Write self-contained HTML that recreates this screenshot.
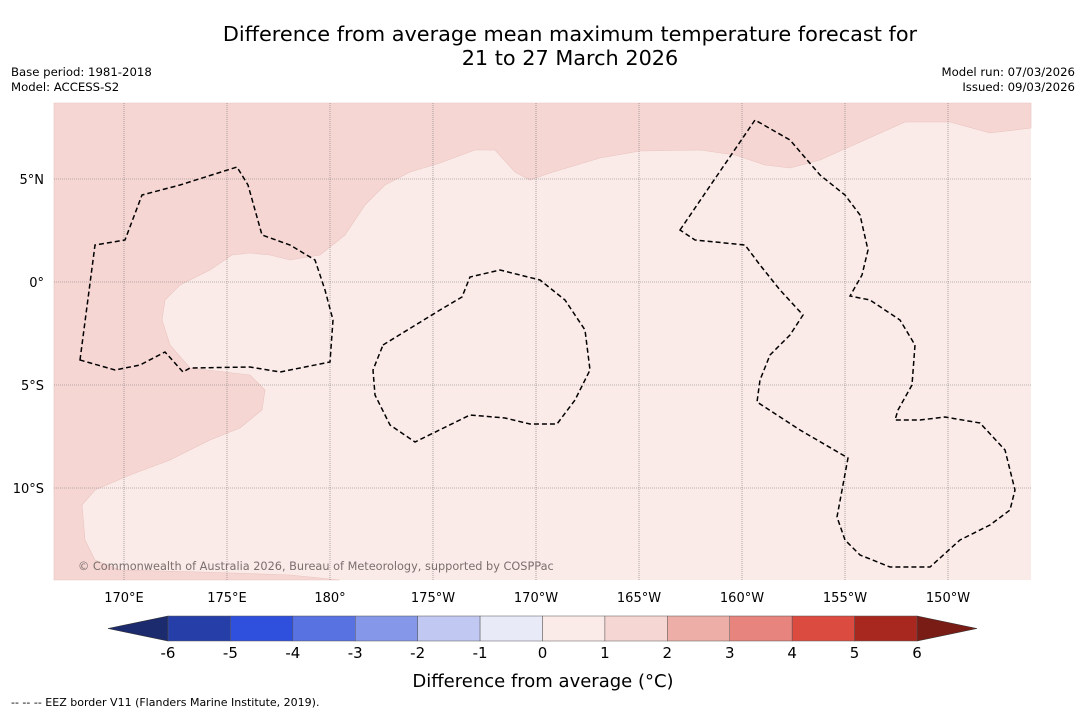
<!DOCTYPE html>
<html><head><meta charset="utf-8"><style>
body{margin:0;background:#fff;width:1085px;height:713px;overflow:hidden;font-family:"DejaVu Sans","Liberation Sans",sans-serif}
.t{position:absolute;color:#000}
</style></head><body>
<div class="t" style="left:0;width:1140px;top:22px;text-align:center;font-size:20.8px;line-height:24px">Difference from average mean maximum temperature forecast for<br>21 to 27 March 2026</div>
<div class="t" style="left:11px;top:65px;font-size:11.7px;line-height:15px">Base period: 1981-2018<br>Model: ACCESS-S2</div>
<div class="t" style="right:10px;top:65px;font-size:11.7px;line-height:15px;text-align:right">Model run: 07/03/2026<br>Issued: 09/03/2026</div>
<svg id="s" width="1085" height="713" style="position:absolute;left:0;top:0">
<rect x="54" y="103" width="977" height="477" fill="#fbebe8"/>
<path fill="#f6d6d3" stroke="#e8c4c0" stroke-width="0.6" d="M54,103 L1031,103 L1031,128 L990,133 L950,122 L930,122 L905,122 L820,160 L790,168 L765,165 L735,155 L700,150 L640,151 L600,158 L550,173 L530,180 L515,172 L495,150 L475,150 L440,163 L410,172 L385,185 L365,205 L345,235 L320,255 L290,260 L270,255 L250,253 L232,255 L210,270 L180,285 L165,300 L162,320 L170,345 L190,368 L250,375 L265,390 L262,410 L240,428 L210,440 L170,460 L130,475 L95,490 L82,505 L85,540 L95,560 L120,570 L200,572 L290,575 L340,580 L54,580 Z"/>
<g id="grid"></g>
<g fill="none" stroke="#000" stroke-width="1.5" stroke-dasharray="5,3">
<path d="M80,360 L95,245 L125,240 L142,195 L180,185 L237,167 L248,185 L262,235 L290,245 L315,260 L325,290 L333,320 L330,362 L280,372 L250,367 L190,368 L183,372 L165,352 L140,365 L115,370 Z"/>
<path d="M383,345 L440,310 L462,297 L470,277 L500,270 L540,280 L565,300 L585,330 L590,370 L575,400 L557,424 L530,424 L505,418 L470,415 L415,442 L390,425 L375,395 L373,370 Z"/>
<path d="M680,230 L755,120 L790,140 L820,175 L845,195 L860,215 L868,250 L862,275 L850,296 L870,300 L900,320 L915,345 L912,385 L898,410 L895,420 L920,420 L945,417 L980,423 L1005,450 L1015,490 L1010,510 L990,525 L960,540 L930,567 L890,567 L860,555 L845,540 L837,517 L848,458 L800,430 L757,402 L760,380 L770,355 L790,335 L803,315 L780,290 L760,265 L745,245 L695,240 Z"/>
</g>
<text x="78" y="570" font-size="11.3" fill="#7a6f6e">© Commonwealth of Australia 2026, Bureau of Meteorology, supported by COSPPac</text>
<g id="cb"></g>
<text x="543" y="687" text-anchor="middle" font-size="18">Difference from average (°C)</text>
<text x="11" y="706" font-size="11">-- -- -- EEZ border V11 (Flanders Marine Institute, 2019).</text>
</svg>
<script>
const lonLabels=["170°E","175°E","180°","175°W","170°W","165°W","160°W","155°W","150°W"];
const lonVals=[170,175,180,185,190,195,200,205,210];
const latLabels=["5°N","0°","5°S","10°S"];
const latVals=[5,0,-5,-10];
const cbTicks=[-6,-5,-4,-3,-2,-1,0,1,2,3,4,5,6];
const cbColors=["#263fa8","#2f50dd","#5872e2","#8497e8","#c1c8f2","#e8eaf8","#fbebe8","#f6d6d3","#edaea7","#e6847d","#db4b40","#a8281f"];
const cbUnder="#1c2a6e", cbOver="#7a1c16";
const NS="http://www.w3.org/2000/svg";
const lonX=v=>124+(v-170)*20.6, latY=v=>282-v*20.6;
const cbX=v=>168+(v+6)*(917-168)/12;
const g=document.getElementById('grid'), cb=document.getElementById('cb');
function mk(tag,attrs,parent){const e=document.createElementNS(NS,tag);for(const k in attrs)e.setAttribute(k,attrs[k]);parent.appendChild(e);return e;}
lonVals.forEach((v,i)=>{const x=lonX(v);
 const l=mk('line',{x1:x,x2:x,y1:103,y2:580,stroke:'#777','stroke-width':0.6,'stroke-dasharray':'1,1'},g);
 
 
 const t=mk('text',{x:x,y:602,'text-anchor':'middle','font-size':13},g);t.textContent=lonLabels[i];
 
 });
latVals.forEach((v,i)=>{const y=latY(v);
 const l=mk('line',{x1:54,x2:1031,y1:y,y2:y,stroke:'#777','stroke-width':0.6,'stroke-dasharray':'1,1'},g);
 
 
 const t=mk('text',{x:44,y:y+5,'text-anchor':'end','font-size':13},g);t.textContent=latLabels[i];
 
 });
const y0=616,y1=641;
const pl=mk('polygon',{points:`${cbX(-6)},${y0} 108,${(y0+y1)/2} ${cbX(-6)},${y1}`,fill:cbUnder,stroke:'#333','stroke-width':0.6},cb);


const pr=mk('polygon',{points:`${cbX(6)},${y0} 977,${(y0+y1)/2} ${cbX(6)},${y1}`,fill:cbOver,stroke:'#333','stroke-width':0.6},cb);


cbColors.forEach((c,i)=>{const r=mk('rect',{x:cbX(cbTicks[i]),y:y0,width:cbX(cbTicks[i+1])-cbX(cbTicks[i]),height:y1-y0,fill:c,stroke:'#555','stroke-width':0.5},cb);
 
 });
cbTicks.forEach(v=>{const t=mk('text',{x:cbX(v),y:658,'text-anchor':'middle','font-size':15},cb);t.textContent=v;
 
 });
</script>
</body></html>
